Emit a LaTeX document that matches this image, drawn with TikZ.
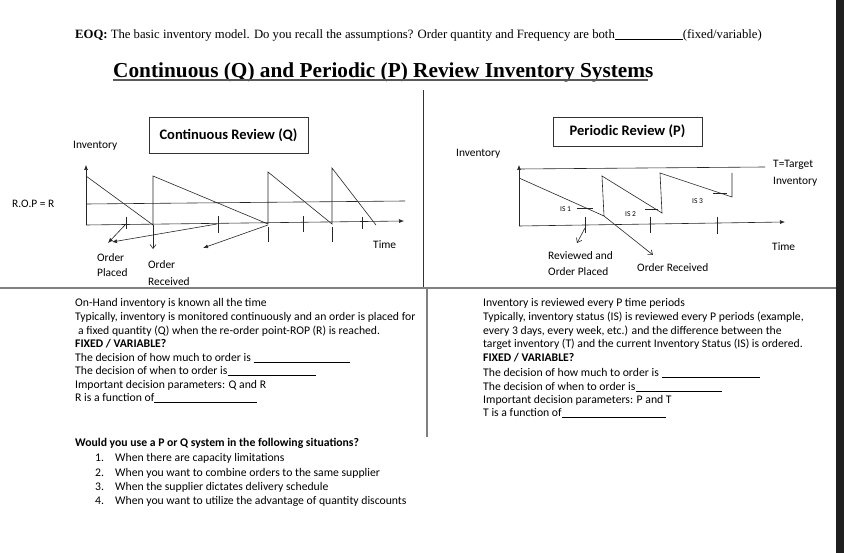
\documentclass[tikz,border=0pt]{standalone}
\usepackage{fontspec}
\setmainfont{Liberation Serif}
\newfontfamily\cf{Carlito}
\usetikzlibrary{arrows.meta}
\begin{document}
\begin{tikzpicture}[x=1pt,y=-1pt,
 ln/.style={draw=black!85, line width=0.6pt},
 tx/.style={inner sep=0pt, anchor=west, font=\cf\fontsize{11.7}{13}\selectfont},
 bt/.style={inner sep=0pt, anchor=west, font=\cf\bfseries\fontsize{11.7}{13}\selectfont},
 sm/.style={inner sep=0pt, anchor=west, font=\cf\fontsize{11.4}{13}\selectfont},
 tiny/.style={inner sep=0pt, anchor=west, font=\cf\fontsize{7.5}{8}\selectfont},
 ttl/.style={draw=black!80, line width=0.6pt, inner sep=0pt, font=\cf\bfseries\fontsize{14.5}{16}\selectfont},
 fa/.style={-{Latex[length=5pt,width=4pt]}},
 oa/.style={-{Straight Barb[length=4pt,width=6pt]}}
]
\useasboundingbox (0,0) rectangle (844,553);
\fill[white] (0,0) rectangle (844,553);
\fill[black!88] (836,0) rectangle (844,553);

% header
\node[inner sep=0pt, anchor=west, font=\fontsize{12.7}{14}\selectfont] (eoq) at (75,35)
 {\textbf{EOQ:} The basic inventory model. Do you recall the assumptions? Order quantity and Frequency are both\rule[-1.5pt]{68pt}{0.5pt}(fixed/variable)};
\node[inner sep=0pt, anchor=west, font=\bfseries\fontsize{21.3}{24}\selectfont] (title) at (113,72)
 {Continuous (Q) and Periodic (P) Review Inventory Systems};
\draw[black!65, line width=1.3pt] ([yshift=-3pt]title.base west) -- ([yshift=-3pt,xshift=-6pt]title.base east);

% dividers
\draw[black!80, line width=0.8pt] (423,90) -- (423,288);
\draw[black!50, line width=1.4pt] (427,288) -- (427,437);
\draw[black!50, line width=1.5pt] (0,288) -- (836,288);

% ---------- left chart
\node[sm] (invL) at (73,146) {Inventory};
\node[ttl, minimum width=159pt, minimum height=36pt] (boxQ) at (228.5,135) {Continuous Review (Q)};
\node[sm] (rop) at (12,204) {R.O.P = R};
\coordinate (oL) at (86,225);
\coordinate (yL) at (86,165);
\coordinate (xL) at (404,221);
\draw[ln, fa] (oL) -- (yL);
\draw[ln, fa] (oL) -- (xL);
\draw[ln] (86,204) -- (405,201);
\draw[ln] (86,176) -- (153,225) -- (153,176) -- (268,224) -- (268,172) -- (332,224) -- (332,168) -- (376,225);
\draw[ln, oa] (153,225) -- (153,249);
\draw[ln] (126,217) -- (126,229);
\draw[ln] (218,216) -- (218,233);
\draw[ln] (303,216) -- (303,232);
\draw[ln] (362,217) -- (362,229);
\draw[ln] (268,227) -- (268,242);
\draw[ln] (332,227) -- (332,242);
\draw[ln, fa] (126,224) -- (108,243);
\draw[ln, fa] (217,224) -- (112,242);
\draw[ln, fa] (268,225) -- (203,248);
\node[sm] (op1) at (97,258) {Order};
\node[sm] (op2) at (97,273) {Placed};
\node[sm] (or1) at (148,265) {Order};
\node[sm] (or2) at (148,282) {Received};
\node[sm] (timeL) at (373,245) {Time};

% ---------- right chart
\node[sm] (invR) at (456,154) {Inventory};
\node[ttl, minimum width=149pt, minimum height=29pt] (boxP) at (627.5,131.5) {Periodic Review (P)};
\coordinate (oR) at (519,226);
\coordinate (yR) at (519,165);
\coordinate (xR) at (785,222);
\draw[ln, fa] (oR) -- (yR);
\draw[ln, fa] (oR) -- (xR);
\draw[ln] (519,169) -- (765,167);
\draw[ln] (519,178) -- (604,216) -- (602,176) -- (662,213) -- (660,173) -- (732,197) -- (732,173);
\draw[ln, oa] (604,216) -- (653,255);
\draw[ln] (577,208) -- (593,208);
\draw[ln] (645,209) -- (658,209);
\draw[ln] (713,193) -- (727,193);
\node[tiny] (is1) at (560,209) {IS 1};
\node[tiny] (is2) at (625,214) {IS 2};
\node[tiny] (is3) at (692,201) {IS 3};
\draw[ln] (585,217) -- (585,233);
\draw[ln] (650,217) -- (650,233);
\draw[ln] (717,217) -- (717,234);
\draw[ln, oa] (585,228) -- (577,243);
\node[sm] (rv1) at (548,256) {Reviewed and};
\node[sm] (rv2) at (548,272) {Order Placed};
\node[sm] (orR) at (637,268) {Order Received};
\node[sm] (timeR) at (772,247) {Time};
\node[sm] (tt1) at (773,165) {T=Target};
\node[sm] (tt2) at (773,182) {Inventory};

% ---------- left text
\node[tx] (l1) at (75,303) {On-Hand inventory is known all the time};
\node[tx] (l2) at (75,317) {Typically, inventory is monitored continuously and an order is placed for};
\node[tx] (l3) at (78,331) {a fixed quantity (Q) when the re-order point-ROP (R) is reached.};
\node[bt] (l4) at (75,344) {FIXED / VARIABLE?};
\node[tx] (l5) at (75,358) {The decision of how much to order is \rule[-1.5pt]{96pt}{0.5pt}};
\node[tx] (l6) at (75,371) {The decision of when to order is\rule[-1.5pt]{88pt}{0.5pt}};
\node[tx] (l7) at (75,385) {Important decision parameters: Q and R};
\node[tx] (l8) at (75,398) {R is a function of\rule[-1.5pt]{103pt}{0.5pt}};

% ---------- right text
\node[tx] (r1) at (483,303) {Inventory is reviewed every P time periods};
\node[tx] (r2) at (483,317) {Typically, inventory status (IS) is reviewed every P periods (example,};
\node[tx] (r3) at (483,331) {every 3 days, every week, etc.) and the difference between the};
\node[tx] (r4) at (483,344) {target inventory (T) and the current Inventory Status (IS) is ordered.};
\node[bt] (r5) at (483,358) {FIXED / VARIABLE?};
\node[tx] (r6) at (483,373) {The decision of how much to order is \rule[-1.5pt]{98pt}{0.5pt}};
\node[tx] (r7) at (483,387) {The decision of when to order is\rule[-1.5pt]{86pt}{0.5pt}};
\node[tx] (r8) at (483,400) {Important decision parameters: P and T};
\node[tx] (r9) at (483,413) {T is a function of\rule[-1.5pt]{104pt}{0.5pt}};

% ---------- bottom question
\node[bt] (q0) at (75,443) {Would you use a P or Q system in the following situations?};
\node[tx] (n1) at (95,458) {1.};
\node[tx] (q1) at (115,458) {When there are capacity limitations};
\node[tx] (n2) at (95,473) {2.};
\node[tx] (q2) at (115,473) {When you want to combine orders to the same supplier};
\node[tx] (n3) at (95,487) {3.};
\node[tx] (q3) at (115,487) {When the supplier dictates delivery schedule};
\node[tx] (n4) at (95,501) {4.};
\node[tx] (q4) at (115,501) {When you want to utilize the advantage of quantity discounts};
\end{tikzpicture}
\end{document}
